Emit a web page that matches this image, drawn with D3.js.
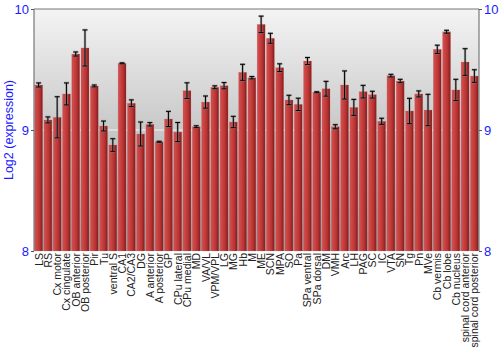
<!DOCTYPE html>
<html lang="en">
<head>
<meta charset="UTF-8">
<title>Log2 expression by region</title>
<script src="https://d3js.org/d3.v7.min.js"></script>
<style>
  body { margin: 0; background: #fff; font-family: "Liberation Sans", Arial, sans-serif; }
  .ytick text { fill: #1a1aff; font-size: 13px; }
  .xlab { fill: #222; font-size: 10.5px; }
</style>
</head>
<body>
<svg width="500" height="350"></svg>
<script>
// regions, mean log2 expression and error (+/-)
const regions = ["LS", "RS", "Cx motor", "Cx cingulate", "OB anterior", "OB posterior", "Pir", "Tu",
  "ventral S", "CA1", "CA2/CA3", "DG", "A anterior", "A posterior", "GP", "CPu lateral", "CPu medial",
  "MD", "VA/VL", "VPM/VPL", "LG", "MG", "Hb", "M", "ME", "SCN", "MPA", "SO", "Pa", "SPa ventral",
  "SPa dorsal", "DM", "VMH", "Arc", "LH", "PAG", "SC", "IC", "VTA", "SN", "Tg", "Pn", "MVe",
  "Cb vermis", "Cb lobe", "Cb nucleus", "spinal cord anterior", "spinal cord posterior"];
const means = [9.372, 9.083, 9.105, 9.298, 9.628, 9.678, 9.364, 9.033,
  8.876, 9.551, 9.221, 8.967, 9.047, 8.903, 9.091, 8.983, 9.325,
  9.027, 9.231, 9.353, 9.366, 9.066, 9.477, 9.432, 9.873, 9.758, 9.515, 9.248, 9.212, 9.570,
  9.312, 9.341, 9.027, 9.372, 9.187, 9.317, 9.292, 9.072, 9.449, 9.405, 9.157, 9.298, 9.165,
  9.667, 9.812, 9.331, 9.562, 9.446];
const errs = [0.017, 0.025, 0.17, 0.091, 0.017, 0.149, 0.008, 0.041,
  0.052, 0.004, 0.028, 0.099, 0.014, 0.004, 0.063, 0.079, 0.065,
  0.008, 0.05, 0.012, 0.026, 0.047, 0.066, 0.01, 0.068, 0.041, 0.032, 0.039, 0.051, 0.029,
  0.004, 0.061, 0.017, 0.116, 0.066, 0.052, 0.028, 0.025, 0.011, 0.014, 0.105, 0.025, 0.13,
  0.034, 0.012, 0.088, 0.11, 0.052];
const yTicks = [8, 9, 10];

const data = regions.map((r, i) => ({ name: r, v: means[i], e: errs[i] }));

const svg = d3.select("svg");
const mLeft = 34, mRight = 479, mTop = 9, mBottom = 251;

const x = d3.scaleBand().domain(regions).range([mLeft, mRight]).paddingInner(0.14).paddingOuter(0.07);
const y = d3.scaleLinear().domain([8, 10]).range([mBottom, mTop]);

const defs = svg.append("defs");
const bg = defs.append("linearGradient").attr("id", "bg").attr("x1", 0).attr("y1", 0).attr("x2", 0).attr("y2", 1);
bg.append("stop").attr("offset", "0%").attr("stop-color", "#f4f4f4");
bg.append("stop").attr("offset", "100%").attr("stop-color", "#9c9c9c");

const barGrad = defs.append("linearGradient").attr("id", "bar").attr("x1", 0).attr("y1", 0).attr("x2", 1).attr("y2", 0);
barGrad.append("stop").attr("offset", "0%").attr("stop-color", "#c95050");
barGrad.append("stop").attr("offset", "20%").attr("stop-color", "#cf4848");
barGrad.append("stop").attr("offset", "65%").attr("stop-color", "#b83232");
barGrad.append("stop").attr("offset", "100%").attr("stop-color", "#7e1c1c");

// plot background
svg.append("rect")
  .attr("x", mLeft).attr("y", mTop)
  .attr("width", mRight - mLeft).attr("height", mBottom - mTop)
  .attr("fill", "url(#bg)");

// gridline at 9
svg.append("line")
  .attr("x1", mLeft).attr("x2", mRight)
  .attr("y1", y(9)).attr("y2", y(9))
  .attr("stroke", "#ffffff").attr("stroke-opacity", 0.8).attr("stroke-width", 1);

// bars
svg.append("g").selectAll("rect")
  .data(data).enter().append("rect")
  .attr("x", d => x(d.name))
  .attr("y", d => y(d.v))
  .attr("width", x.bandwidth())
  .attr("height", d => mBottom - y(d.v))
  .attr("fill", "url(#bar)")
  .attr("stroke", "#d87070").attr("stroke-opacity", 0.35).attr("stroke-width", 0.6);

// error bars
const eb = svg.append("g").selectAll("g").data(data).enter().append("g");
const cx = d => x(d.name) + x.bandwidth() / 2;
[["#888", 2.4, 0.6], ["#000", 1, 1]].forEach(([col, w, op]) => {
  eb.append("line")
    .attr("x1", cx).attr("x2", cx)
    .attr("y1", d => y(d.v + d.e)).attr("y2", d => y(d.v - d.e))
    .attr("stroke", col).attr("stroke-width", w).attr("stroke-opacity", op);
  eb.append("line")
    .attr("x1", d => cx(d) - 2.5).attr("x2", d => cx(d) + 2.5)
    .attr("y1", d => y(d.v + d.e)).attr("y2", d => y(d.v + d.e))
    .attr("stroke", col).attr("stroke-width", w).attr("stroke-opacity", op);
  eb.append("line")
    .attr("x1", d => cx(d) - 2.5).attr("x2", d => cx(d) + 2.5)
    .attr("y1", d => y(d.v - d.e)).attr("y2", d => y(d.v - d.e))
    .attr("stroke", col).attr("stroke-width", w).attr("stroke-opacity", op);
});

// frame lines
svg.append("line").attr("x1", mLeft).attr("x2", mRight).attr("y1", mTop).attr("y2", mTop)
  .attr("stroke", "#777").attr("stroke-width", 1.2);
svg.append("line").attr("x1", mLeft).attr("x2", mLeft).attr("y1", mTop).attr("y2", mBottom)
  .attr("stroke", "#777").attr("stroke-width", 1.2);
svg.append("line").attr("x1", mRight).attr("x2", mRight).attr("y1", mTop).attr("y2", mBottom)
  .attr("stroke", "#777").attr("stroke-width", 1.2);

// y axes
const yl = svg.append("g").attr("class", "ytick").attr("transform", `translate(${mLeft},0)`)
  .call(d3.axisLeft(y).tickValues(yTicks).tickSize(3).tickPadding(2).tickFormat(d3.format("d")));
const yr = svg.append("g").attr("class", "ytick").attr("transform", `translate(${mRight},0)`)
  .call(d3.axisRight(y).tickValues(yTicks).tickSize(3).tickPadding(2).tickFormat(d3.format("d")));
[yl, yr].forEach(g => {
  g.select(".domain").remove();
  g.selectAll("line").attr("stroke", "#555");
  g.selectAll("text").attr("font-family", "Liberation Sans, Arial, sans-serif").attr("font-size", 13);
});

// y label
svg.append("text")
  .attr("transform", `translate(13,${(mTop + mBottom) / 2}) rotate(-90)`)
  .attr("text-anchor", "middle")
  .attr("fill", "#1a1aff")
  .attr("font-size", 12.5)
  .text("Log2 (expression)");

// x labels
svg.append("g").selectAll("text")
  .data(regions).enter().append("text")
  .attr("class", "xlab")
  .attr("text-anchor", "end")
  .attr("transform", d => `translate(${x(d) + x.bandwidth() / 2 + 4},${mBottom + 2}) rotate(-90)`)
  .text(d => d);
</script>
</body>
</html>
